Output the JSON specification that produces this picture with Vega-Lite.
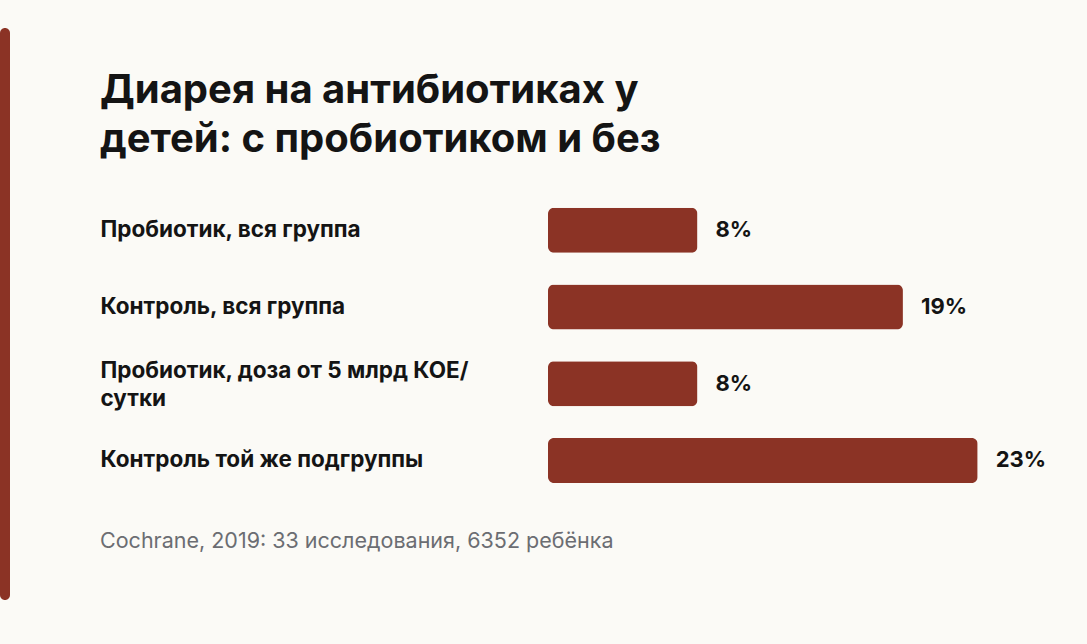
{
  "$schema": "https://vega.github.io/schema/vega-lite/v6.json",
  "background": "#fbfaf6",
  "padding": {"left": 0, "top": 28, "right": 0, "bottom": 44},
  "spacing": 90,
  "config": {"font": "Inter", "view": {"stroke": null}},
  "hconcat": [
    {
      "width": 10,
      "height": 572,
      "data": {"values": []},
      "mark": "point",
      "view": {"fill": "#8b3325", "stroke": null, "cornerRadius": 5}
    },
    {
      "spacing": 0,
      "vconcat": [
        {
          "width": 1,
          "height": 43,
          "data": {"values": []},
          "mark": "point"
        },
        {
          "title": {
            "text": ["Диарея на антибиотиках у", "детей: с пробиотиком и без"],
            "anchor": "start",
            "frame": "bounds",
            "fontSize": 40,
            "fontWeight": "bold",
            "lineHeight": 49,
            "color": "#141414",
            "offset": 32
          },
          "vconcat": [
            {
              "width": 539,
              "height": 306.8,
              "data": {
                "values": [
                  {"group": "Пробиотик, вся группа", "value": 0.08},
                  {"group": "Контроль, вся группа", "value": 0.19},
                  {"group": "Пробиотик, доза от 5 млрд КОЕ/ сутки", "value": 0.08},
                  {"group": "Контроль той же подгруппы", "value": 0.23}
                ]
              },
              "title": {
                "text": "Cochrane, 2019: 33 исследования, 6352 ребёнка",
                "orient": "bottom",
                "anchor": "start",
                "frame": "bounds",
                "fontSize": 21.5,
                "fontWeight": "normal",
                "color": "#6b6d72",
                "offset": 32
              },
              "encoding": {
                "y": {
                  "field": "group",
                  "type": "nominal",
                  "sort": null,
                  "scale": {"paddingInner": 0.413, "paddingOuter": 0.2065},
                  "axis": {
                    "title": null,
                    "domain": false,
                    "ticks": false,
                    "tickSize": 0,
                    "labelAlign": "left",
                    "labelPadding": 448,
                    "labelLimit": 440,
                    "labelFontSize": 22.5,
                    "labelFontWeight": "bold",
                    "labelColor": "#141414",
                    "labelLineHeight": 28,
                    "labelOffset": {"condition": {"test": "indexof(datum.label, 'КОЕ') >= 0", "value": -13}, "value": 0},
                    "labelExpr": "datum.label == 'Пробиотик, доза от 5 млрд КОЕ/ сутки' ? ['Пробиотик, доза от 5 млрд КОЕ/', 'сутки'] : datum.label"
                  }
                },
                "x": {
                  "field": "value",
                  "type": "quantitative",
                  "scale": {"domain": [0, 0.28854]},
                  "axis": null
                }
              },
              "layer": [
                {"mark": {"type": "bar", "color": "#8b3325", "cornerRadius": 6}},
                {
                  "mark": {"type": "text", "align": "left", "dx": 18, "fontSize": 22, "fontWeight": "bold", "color": "#141414"},
                  "encoding": {"text": {"field": "value", "type": "quantitative", "format": ".0%"}}
                }
              ]
            }
          ]
        }
      ]
    }
  ]
}
